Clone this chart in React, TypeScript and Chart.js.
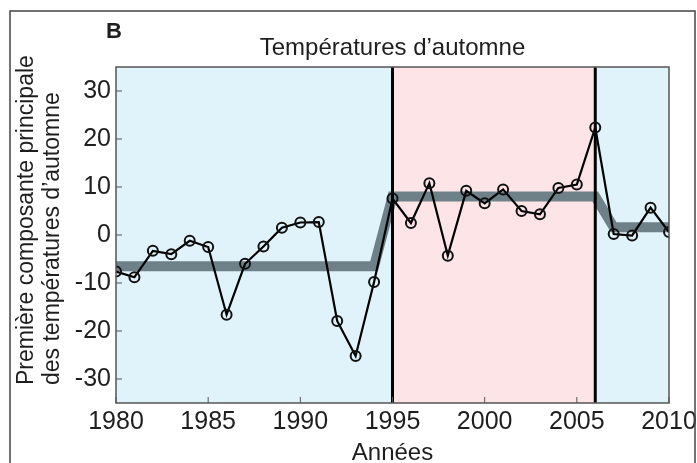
import React, { useEffect, useRef } from "react";
import { Chart, registerables } from "chart.js";

Chart.register(...registerables);

const years: number[] = [
  1980, 1981, 1982, 1983, 1984, 1985, 1986, 1987, 1988, 1989, 1990, 1991, 1992, 1993, 1994, 1995,
  1996, 1997, 1998, 1999, 2000, 2001, 2002, 2003, 2004, 2005, 2006, 2007, 2008, 2009, 2010,
];
const pcValues: number[] = [
  -7.6, -8.8, -3.3, -4.0, -1.2, -2.5, -16.6, -6.0, -2.4, 1.5, 2.6, 2.7, -17.9, -25.2, -9.8, 7.6,
  2.5, 10.8, -4.3, 9.2, 6.6, 9.5, 5.0, 4.3, 9.8, 10.5, 22.4, 0.2, -0.1, 5.7, 0.6,
];
const stepYears: number[] = [1980, 1994, 1995, 2006, 2007, 2010];
const stepValues: number[] = [-6.5, -6.5, 8.0, 8.0, 1.6, 1.6];
const regimeBreaks: number[] = [1995, 2006];
const xTickValues: number[] = [1980, 1985, 1990, 1995, 2000, 2005, 2010];
const yTickValues: number[] = [-30, -20, -10, 0, 10, 20, 30];

const FONT = "'Liberation Sans', Arial, Helvetica, sans-serif";
const BLUE_BG = "#e0f3fb";
const PINK_BG = "#fce4e7";

const decorPlugin = {
  id: "decor",
  beforeDatasetsDraw(chart: any) {
    const { ctx, chartArea, scales } = chart;
    const x = scales.x;
    const xa = x.getPixelForValue(regimeBreaks[0]);
    const xb = x.getPixelForValue(regimeBreaks[1]);
    ctx.save();
    ctx.fillStyle = BLUE_BG;
    ctx.fillRect(chartArea.left, chartArea.top, xa - chartArea.left, chartArea.bottom - chartArea.top);
    ctx.fillRect(xb, chartArea.top, chartArea.right - xb, chartArea.bottom - chartArea.top);
    ctx.fillStyle = PINK_BG;
    ctx.fillRect(xa, chartArea.top, xb - xa, chartArea.bottom - chartArea.top);
    ctx.restore();
  },
  afterDatasetDraw(chart: any, args: any) {
    if (args.index !== 1) return;
    const { ctx, chartArea, scales } = chart;
    ctx.save();
    ctx.strokeStyle = "#000";
    ctx.lineWidth = 3;
    regimeBreaks.forEach((yr) => {
      const px = scales.x.getPixelForValue(yr);
      ctx.beginPath();
      ctx.moveTo(px, chartArea.top);
      ctx.lineTo(px, chartArea.bottom);
      ctx.stroke();
    });
    ctx.restore();
  },
  afterDraw(chart: any) {
    const { ctx, chartArea, scales } = chart;
    ctx.save();
    // plot frame
    ctx.strokeStyle = "#555";
    ctx.lineWidth = 1.5;
    ctx.strokeRect(chartArea.left, chartArea.top, chartArea.right - chartArea.left, chartArea.bottom - chartArea.top);
    // inward ticks
    ctx.lineWidth = 1;
    ctx.beginPath();
    xTickValues.forEach((v) => {
      const px = scales.x.getPixelForValue(v);
      ctx.moveTo(px, chartArea.bottom);
      ctx.lineTo(px, chartArea.bottom - 6);
    });
    yTickValues.forEach((v) => {
      const py = scales.y.getPixelForValue(v);
      ctx.moveTo(chartArea.left, py);
      ctx.lineTo(chartArea.left + 6, py);
    });
    ctx.stroke();
    // figure frame
    ctx.strokeStyle = "#444";
    ctx.lineWidth = 1.5;
    ctx.beginPath();
    ctx.moveTo(10, 470);
    ctx.lineTo(10, 11);
    ctx.lineTo(695, 11);
    ctx.lineTo(695, 470);
    ctx.stroke();
    // texts
    ctx.fillStyle = "#1e1e1e";
    ctx.font = `bold 22px ${FONT}`;
    ctx.textAlign = "left";
    ctx.textBaseline = "alphabetic";
    ctx.fillText("B", 106, 38);
    ctx.font = `24px ${FONT}`;
    ctx.textAlign = "center";
    const cx = (chartArea.left + chartArea.right) / 2;
    ctx.fillText("Températures d’automne", cx, 55);
    ctx.fillText("Années", cx, 460);
    ctx.font = `23px ${FONT}`;
    ctx.textAlign = "left";
    ctx.save();
    ctx.translate(33, 385);
    ctx.rotate(-Math.PI / 2);
    ctx.fillText("Première composante principale", 0, 0);
    ctx.restore();
    ctx.save();
    ctx.translate(59, 385);
    ctx.rotate(-Math.PI / 2);
    ctx.fillText("des températures d’automne", 0, 0);
    ctx.restore();
    ctx.restore();
  },
};

export default function App() {
  const ref = useRef<HTMLCanvasElement | null>(null);
  useEffect(() => {
    if (!ref.current) return;
    const chart = new Chart(ref.current, {
      type: "line",
      data: {
        datasets: [
          {
            data: years.map((yr, i) => ({ x: yr, y: pcValues[i] })),
            borderColor: "#000",
            borderWidth: 2.2,
            pointRadius: 5,
            pointBorderWidth: 2,
            pointBorderColor: "#111",
            pointBackgroundColor: "rgba(0,0,0,0)",
            tension: 0,
          },
          {
            data: stepYears.map((yr, i) => ({ x: yr, y: stepValues[i] })),
            borderColor: "#6e8189",
            borderWidth: 10,
            pointRadius: 0,
            tension: 0,
            borderJoinStyle: "miter",
          },
        ],
      },
      options: {
        responsive: false,
        animation: false,
        events: [],
        layout: { padding: { left: 0, top: 67, right: 28, bottom: 0 } },
        plugins: { legend: { display: false }, tooltip: { enabled: false }, title: { display: false } },
        scales: {
          x: {
            type: "linear",
            min: 1980,
            max: 2010,
            afterBuildTicks: (s: any) => {
              s.ticks = xTickValues.map((v) => ({ value: v }));
            },
            afterFit: (s: any) => {
              s.height = 60;
              s.paddingLeft = 0;
              s.paddingRight = 0;
            },
            grid: { display: false, drawTicks: false },
            border: { display: false },
            ticks: {
              padding: 4,
              color: "#1e1e1e",
              font: { family: FONT, size: 25 },
              maxRotation: 0,
              autoSkip: false,
              callback: (v: any) => String(v),
            },
          },
          y: {
            type: "linear",
            min: -35,
            max: 35,
            afterBuildTicks: (s: any) => {
              s.ticks = yTickValues.map((v) => ({ value: v }));
            },
            afterFit: (s: any) => {
              s.width = 116;
              s.paddingTop = 0;
              s.paddingBottom = 0;
            },
            grid: { display: false, drawTicks: false },
            border: { display: false },
            ticks: {
              padding: 5,
              color: "#1e1e1e",
              font: { family: FONT, size: 25 },
              callback: (v: any) => String(v),
            },
          },
        },
      },
      plugins: [decorPlugin],
    });
    return () => chart.destroy();
  }, []);
  return (
    <div style={{ position: "absolute", left: 0, top: 0, width: 697, height: 463, background: "#fff" }}>
      <canvas ref={ref} width={697} height={463} />
    </div>
  );
}
